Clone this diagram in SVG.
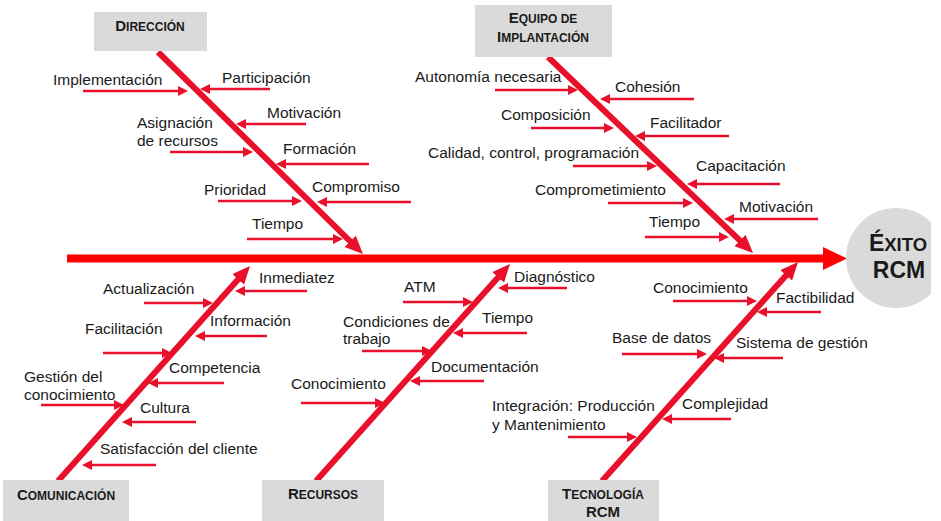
<svg xmlns="http://www.w3.org/2000/svg" width="941" height="521" viewBox="0 0 941 521">
<style>
  .lbl { font-family: "Liberation Sans", Arial, sans-serif; font-size: 15.5px; fill: #1a1a1a; }
  .cat { font-family: "Liberation Sans", Arial, sans-serif; font-weight: bold; fill: #1a1a1a; text-anchor: middle; }
  .big { font-size: 15px; }
  .sm { font-size: 12px; }
  .box { fill: #dadada; }
  .bone { stroke: #e8102b; stroke-width: 6; fill: none; marker-end: url(#bh); }
  .sub { stroke: #e8102b; stroke-width: 2.6; fill: none; marker-end: url(#sh); }
  .spine { stroke: #ff0000; stroke-width: 8; fill: none; marker-end: url(#spH); }
</style>
<defs>
  <marker id="sh" markerUnits="userSpaceOnUse" markerWidth="11" markerHeight="11" refX="1" refY="5" orient="auto">
    <path d="M0,0 L10,5 L0,10 z" fill="#e8102b"/>
  </marker>
  <marker id="bh" markerUnits="userSpaceOnUse" markerWidth="20" markerHeight="18" refX="4" refY="8" orient="auto">
    <path d="M0,0 L18,8 L0,16 z" fill="#e8102b"/>
  </marker>
  <marker id="spH" markerUnits="userSpaceOnUse" markerWidth="26" markerHeight="24" refX="2" refY="11.5" orient="auto">
    <path d="M0,0 L24,11.5 L0,23 z" fill="#ff0000"/>
  </marker>
  <clipPath id="clipHead"><rect x="0" y="0" width="931" height="521"/></clipPath>
</defs>

<g id="connectors">
  <line class="spine" x1="67" y1="258.5" x2="825" y2="258.5"/>
  <line class="bone" x1="158" y1="52" x2="353" y2="244.2"/>
  <line class="bone" x1="548" y1="57" x2="742.9" y2="243.3"/>
  <line class="bone" x1="58" y1="481" x2="240.7" y2="276.4"/>
  <line class="bone" x1="316" y1="481" x2="500.7" y2="274.4"/>
  <line class="bone" x1="602" y1="481" x2="788.7" y2="272.4"/>
  <!-- Direccion -->
  <line class="sub" x1="83" y1="91" x2="179" y2="91"/>
  <line class="sub" x1="270" y1="89" x2="209" y2="89"/>
  <line class="sub" x1="306" y1="124" x2="245" y2="124"/>
  <line class="sub" x1="170" y1="152" x2="244" y2="152"/>
  <line class="sub" x1="369" y1="164" x2="285" y2="164"/>
  <line class="sub" x1="218" y1="201" x2="293" y2="201"/>
  <line class="sub" x1="411" y1="202" x2="326" y2="202"/>
  <line class="sub" x1="247" y1="239" x2="334" y2="239"/>
  <!-- Equipo -->
  <line class="sub" x1="495" y1="90" x2="569" y2="90"/>
  <line class="sub" x1="694" y1="99" x2="609" y2="99"/>
  <line class="sub" x1="531" y1="128" x2="605" y2="128"/>
  <line class="sub" x1="729" y1="136" x2="644" y2="136"/>
  <line class="sub" x1="573" y1="166" x2="648" y2="166"/>
  <line class="sub" x1="780" y1="184" x2="696" y2="184"/>
  <line class="sub" x1="608" y1="203" x2="684" y2="203"/>
  <line class="sub" x1="818" y1="219" x2="733" y2="219"/>
  <line class="sub" x1="645" y1="237" x2="720" y2="237"/>
  <!-- Comunicacion -->
  <line class="sub" x1="307" y1="291" x2="244" y2="291"/>
  <line class="sub" x1="144" y1="303" x2="204" y2="303"/>
  <line class="sub" x1="267" y1="336" x2="204" y2="336"/>
  <line class="sub" x1="103" y1="353" x2="163" y2="353"/>
  <line class="sub" x1="224" y1="383" x2="157" y2="383"/>
  <line class="sub" x1="41" y1="405" x2="115" y2="405"/>
  <line class="sub" x1="196" y1="422" x2="131" y2="422"/>
  <line class="sub" x1="156" y1="465" x2="91" y2="465"/>
  <!-- Recursos -->
  <line class="sub" x1="567" y1="288" x2="507" y2="288"/>
  <line class="sub" x1="403" y1="302" x2="464" y2="302"/>
  <line class="sub" x1="527" y1="333" x2="462" y2="333"/>
  <line class="sub" x1="362" y1="351" x2="423" y2="351"/>
  <line class="sub" x1="484" y1="381" x2="419" y2="381"/>
  <line class="sub" x1="301" y1="403" x2="376" y2="403"/>
  <!-- Tecnologia -->
  <line class="sub" x1="673" y1="301" x2="748" y2="301"/>
  <line class="sub" x1="821" y1="312" x2="766" y2="312"/>
  <line class="sub" x1="622" y1="354" x2="698" y2="354"/>
  <line class="sub" x1="783" y1="358" x2="723" y2="358"/>
  <line class="sub" x1="568" y1="437" x2="628" y2="437"/>
  <line class="sub" x1="731" y1="419" x2="671" y2="419"/>
</g>

<g id="head">
  <circle cx="896" cy="258" r="50" fill="#dadada" clip-path="url(#clipHead)"/>
  <text class="cat" x="898" y="251"><tspan font-size="23">É</tspan><tspan font-size="18.5">XITO</tspan></text>
  <text class="cat" x="899" y="278" font-size="23">RCM</text>
</g>

<g id="cat-direccion">
  <rect class="box" x="94" y="12" width="113" height="39"/>
  <text class="cat" x="150" y="31"><tspan class="big">D</tspan><tspan class="sm">IRECCIÓN</tspan></text>
</g>
<g id="cat-equipo">
  <rect class="box" x="475" y="5" width="137" height="52"/>
  <text class="cat" x="543" y="23"><tspan class="big">E</tspan><tspan class="sm">QUIPO DE</tspan></text>
  <text class="cat" x="543" y="42"><tspan class="big">I</tspan><tspan class="sm">MPLANTACIÓN</tspan></text>
</g>
<g id="cat-comunicacion">
  <rect class="box" x="3" y="480" width="126" height="41"/>
  <text class="cat" x="66" y="500"><tspan class="big">C</tspan><tspan class="sm">OMUNICACIÓN</tspan></text>
</g>
<g id="cat-recursos">
  <rect class="box" x="262" y="480" width="122" height="41"/>
  <text class="cat" x="323" y="499"><tspan class="big">R</tspan><tspan class="sm">ECURSOS</tspan></text>
</g>
<g id="cat-tecnologia">
  <rect class="box" x="548" y="480" width="111" height="41"/>
  <text class="cat" x="603" y="499"><tspan class="big">T</tspan><tspan class="sm">ECNOLOGÍA</tspan></text>
  <text class="cat big" x="603" y="517">RCM</text>
</g>

<g id="causes-direccion">
  <g id="d-implementacion"><text class="lbl" x="53" y="85">Implementación</text></g>
  <g id="d-participacion"><text class="lbl" x="222" y="83">Participación</text></g>
  <g id="d-motivacion"><text class="lbl" x="267" y="118">Motivación</text></g>
  <g id="d-asignacion"><text class="lbl" x="137" y="128">Asignación</text><text class="lbl" x="137" y="146">de recursos</text></g>
  <g id="d-formacion"><text class="lbl" x="283" y="154">Formación</text></g>
  <g id="d-prioridad"><text class="lbl" x="204" y="195">Prioridad</text></g>
  <g id="d-compromiso"><text class="lbl" x="312" y="192">Compromiso</text></g>
  <g id="d-tiempo"><text class="lbl" x="252" y="229">Tiempo</text></g>
</g>
<g id="causes-equipo">
  <g id="e-autonomia"><text class="lbl" x="415" y="82">Autonomía necesaria</text></g>
  <g id="e-cohesion"><text class="lbl" x="615" y="92">Cohesión</text></g>
  <g id="e-composicion"><text class="lbl" x="501" y="120">Composición</text></g>
  <g id="e-facilitador"><text class="lbl" x="650" y="128">Facilitador</text></g>
  <g id="e-calidad"><text class="lbl" x="428" y="158">Calidad, control, programación</text></g>
  <g id="e-capacitacion"><text class="lbl" x="696" y="171">Capacitación</text></g>
  <g id="e-comprometimiento"><text class="lbl" x="535" y="195">Comprometimiento</text></g>
  <g id="e-motivacion"><text class="lbl" x="739" y="212">Motivación</text></g>
  <g id="e-tiempo"><text class="lbl" x="649" y="227">Tiempo</text></g>
</g>
<g id="causes-comunicacion">
  <g id="c-inmediatez"><text class="lbl" x="259" y="283">Inmediatez</text></g>
  <g id="c-actualizacion"><text class="lbl" x="103" y="294">Actualización</text></g>
  <g id="c-informacion"><text class="lbl" x="210" y="326">Información</text></g>
  <g id="c-facilitacion"><text class="lbl" x="85" y="334">Facilitación</text></g>
  <g id="c-competencia"><text class="lbl" x="169" y="373">Competencia</text></g>
  <g id="c-gestion"><text class="lbl" x="24" y="382">Gestión del</text><text class="lbl" x="24" y="400">conocimiento</text></g>
  <g id="c-cultura"><text class="lbl" x="140" y="413">Cultura</text></g>
  <g id="c-satisfaccion"><text class="lbl" x="100" y="454">Satisfacción del cliente</text></g>
</g>
<g id="causes-recursos">
  <g id="r-diagnostico"><text class="lbl" x="514" y="282">Diagnóstico</text></g>
  <g id="r-atm"><text class="lbl" x="404" y="292">ATM</text></g>
  <g id="r-tiempo"><text class="lbl" x="482" y="323">Tiempo</text></g>
  <g id="r-condiciones"><text class="lbl" x="343" y="327">Condiciones de</text><text class="lbl" x="343" y="344">trabajo</text></g>
  <g id="r-documentacion"><text class="lbl" x="431" y="372">Documentación</text></g>
  <g id="r-conocimiento"><text class="lbl" x="291" y="389">Conocimiento</text></g>
</g>
<g id="causes-tecnologia">
  <g id="t-conocimiento"><text class="lbl" x="653" y="293">Conocimiento</text></g>
  <g id="t-factibilidad"><text class="lbl" x="776" y="303">Factibilidad</text></g>
  <g id="t-base"><text class="lbl" x="612" y="343">Base de datos</text></g>
  <g id="t-sistema"><text class="lbl" x="736" y="348">Sistema de gestión</text></g>
  <g id="t-integracion"><text class="lbl" x="492" y="411">Integración: Producción</text><text class="lbl" x="492" y="430">y Mantenimiento</text></g>
  <g id="t-complejidad"><text class="lbl" x="682" y="409">Complejidad</text></g>
</g>
</svg>
